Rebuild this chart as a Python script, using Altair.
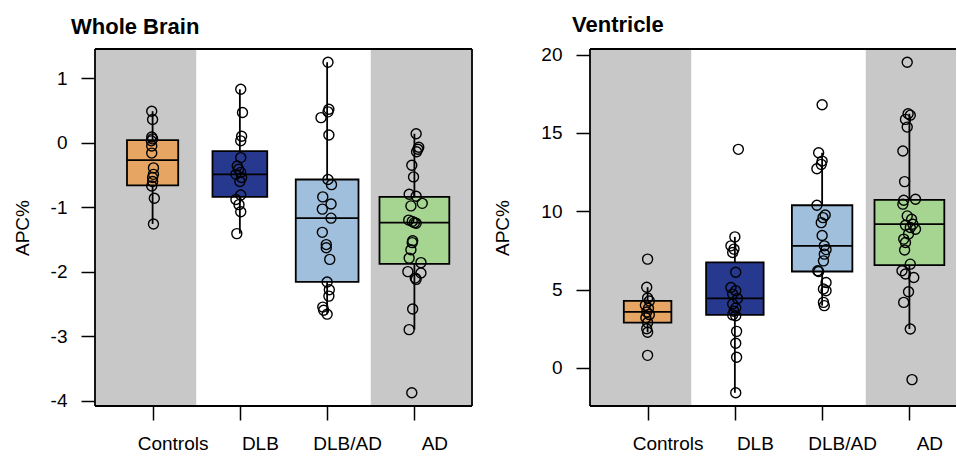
import altair as alt
import numpy as np
import pandas as pd

groups = ["Controls", "DLB", "DLB/AD", "AD"]
colors = ["#E6A562", "#27398F", "#9FBFDC", "#A6D591"]
band_gray = "#C8C8C8"

# ---- Whole Brain: annual percent change per subject ----
wb_controls = [0.49, 0.36, 0.09, 0.06, 0.03, -0.05, -0.16, -0.39, -0.49, -0.54, -0.60, -0.67, -0.86, -1.26]
wb_dlb = [0.83, 0.47, 0.10, 0.03, -0.23, -0.36, -0.41, -0.46, -0.49, -0.54, -0.60, -0.81, -0.88, -0.96, -1.07, -1.41]
wb_dlbad = [1.25, 0.52, 0.48, 0.39, 0.12, -0.57, -0.65, -0.84, -0.95, -1.03, -1.17, -1.39, -1.58, -1.63,
            -1.81, -2.16, -2.28, -2.38, -2.55, -2.60, -2.66]
wb_ad = [0.14, -0.07, -0.10, -0.14, -0.35, -0.53, -0.80, -0.83, -0.94, -0.98, -1.20, -1.22, -1.24, -1.25,
         -1.52, -1.55, -1.66, -1.79, -1.86, -2.00, -2.02, -2.10, -2.12, -2.58, -2.90, -3.88]

# horizontal jitter of each subject (in category units)
wb_controls_jit = [-0.01, 0, -0.01, 0, -0.015, -0.01, -0.01, 0.01, 0.01, 0, 0, -0.01, 0.02, 0.01]
wb_dlb_jit = [0.01, 0.03, 0.02, 0.01, 0.01, -0.03, -0.015, 0.01, -0.045, 0.02, 0, 0.01, -0.045, -0.01, 0.01, -0.035]
wb_dlbad_jit = [0.01, 0.02, 0.01, -0.07, 0.02, 0.01, 0.05, -0.05, 0.045, -0.055, 0.045, -0.055, -0.01, -0.01,
                0.03, 0, 0.025, 0.02, -0.05, -0.04, 0]
wb_ad_jit = [0.02, 0.05, 0.04, 0.025, -0.03, -0.01, -0.06, 0.02, 0.09, -0.04, -0.065, -0.025, 0, 0.02,
             -0.02, -0.025, -0.04, -0.06, 0.075, -0.075, 0.075, 0.01, 0.02, -0.02, -0.06, -0.03]

# box statistics: lower whisker, lower hinge, median, upper hinge, upper whisker
wb_lo = [-1.26, -1.41, -2.66, -2.90]
wb_q1 = [-0.66, -0.84, -2.16, -1.88]
wb_med = [-0.27, -0.49, -1.17, -1.24]
wb_q3 = [0.04, -0.13, -0.57, -0.84]
wb_hi = [0.49, 0.83, 1.25, 0.14]
wb_ticks = [-4, -3, -2, -1, 0, 1]

# ---- Ventricle ----
v_controls = [6.94, 5.15, 4.46, 4.27, 4.00, 3.80, 3.57, 3.40, 3.20, 2.89, 2.50, 2.27, 0.80]
v_dlb = [13.95, 8.36, 7.79, 7.58, 7.36, 6.10, 5.13, 4.92, 4.71, 4.43, 4.08, 3.82, 3.61, 3.38, 3.33,
         2.33, 1.57, 0.68, -1.59]
v_dlbad = [16.80, 13.73, 13.20, 12.99, 12.71, 10.38, 9.76, 9.59, 9.27, 8.45, 7.79, 7.55, 7.26, 6.83,
           6.20, 6.15, 5.45, 5.03, 4.92, 4.18, 3.97]
v_ad = [19.51, 16.22, 16.13, 15.86, 15.37, 13.84, 11.89, 10.76, 10.70, 10.45, 9.70, 9.49, 9.17, 9.10,
        8.96, 8.85, 8.54, 8.22, 8.00, 7.52, 6.62, 6.20, 5.99, 5.77, 4.86, 4.18, 2.48, -0.75]

v_controls_jit = [0, -0.01, 0, 0.02, -0.025, 0.01, -0.01, 0.02, -0.02, 0, -0.01, 0, 0]
v_dlb_jit = [0.04, 0, -0.045, -0.01, -0.025, 0.01, -0.045, 0.01, -0.025, 0.03, -0.025, 0.01, -0.01,
             -0.025, 0.01, 0.02, 0.01, 0.02, 0.01]
v_dlbad_jit = [0, -0.04, 0, -0.01, -0.06, -0.06, 0.035, 0.01, -0.01, 0, 0.025, 0.045, 0.025, 0.015,
               -0.05, -0.04, 0.045, 0.015, 0.045, 0.015, 0.025]
v_ad_jit = [-0.025, -0.015, 0.01, -0.045, -0.025, -0.075, -0.055, 0.07, -0.065, -0.075, -0.025, 0.025,
            0.04, -0.045, 0.01, 0.07, -0.01, -0.065, -0.045, -0.055, 0.01, -0.085, -0.045, 0.05, -0.01,
            -0.065, 0.01, 0.03]

v_lo = [2.27, -1.59, 3.97, 2.48]
v_q1 = [2.89, 3.38, 6.15, 6.56]
v_med = [3.57, 4.43, 7.79, 9.17]
v_q3 = [4.27, 6.73, 10.38, 10.72]
v_hi = [5.15, 8.36, 13.73, 16.22]
v_ticks = [0, 5, 10, 15, 20]

FONT = "Liberation Sans"
H = 357
LEFT_W = 377
RIGHT_W = 366
X_MIN, X_MAX = 0.34, 4.66
LINE = 1.8

color_scale = alt.Scale(domain=groups, range=colors)
x_label_expr = "[" + ",".join("'%s'" % g for g in groups) + "][datum.value - 1]"
# plain hyphen for negative tick labels
y_label_expr = "datum.value < 0 ? '-' + format(-datum.value, 'd') : format(datum.value, 'd')"


def panel(title, series, jitters, lo, q1, med, q3, hi, ticks, width, title_dx, ytitle_x, right_border):
    x_max = X_MIN + (X_MAX - X_MIN) * width / LEFT_W

    rows = []
    for i, (g, vals, jit) in enumerate(zip(groups, series, jitters)):
        for v, j in zip(vals, jit):
            rows.append({"group": g, "pos": i + 1 + j, "value": v})
    pts = pd.DataFrame(rows)

    counts = np.array([len(s) for s in series])
    half = 0.4 * np.sqrt(counts / counts.max())  # box width grows with sqrt(n)
    pos = np.arange(1, len(groups) + 1)
    boxes = pd.DataFrame({
        "group": groups, "pos": pos, "left": pos - half, "right": pos + half,
        "lo": lo, "q1": q1, "med": med, "q3": q3, "hi": hi,
    })

    all_vals = np.concatenate([np.asarray(s, dtype=float) for s in series])
    span = all_vals.max() - all_vals.min()
    y_dom = [all_vals.min() - 0.04 * span, all_vals.max() + 0.04 * span]

    bands = pd.DataFrame({"x0": [X_MIN, 3.5], "x1": [1.5, x_max]})

    xs = alt.Scale(domain=[X_MIN, x_max], nice=False, zero=False)
    ys = alt.Scale(domain=y_dom, nice=False, zero=False)

    x_axis = alt.Axis(values=[1, 2, 3, 4], labelExpr=x_label_expr, title=None, grid=False, domain=False,
                      tickSize=14, tickWidth=1.5, tickColor="black", labelPadding=14, labelOffset=20,
                      labelFont=FONT, labelFontSize=19, labelColor="black", labelFlush=False,
                      labelOverlap=False)
    y_axis = alt.Axis(values=ticks, labelExpr=y_label_expr, title="APC%", grid=False, domain=False,
                      tickSize=14, tickWidth=1.5, tickColor="black", labelPadding=14, labelFont=FONT,
                      labelFontSize=19, labelColor="black", labelFlush=False, labelOverlap=False,
                      titleFont=FONT, titleFontSize=19, titleFontWeight="normal", titleColor="black",
                      titleAngle=270, titleBaseline="bottom", titleAlign="center",
                      titleX=ytitle_x, titleY=H / 2)

    band_layer = alt.Chart(bands).mark_rect(color=band_gray).encode(
        x=alt.X("x0:Q", scale=xs, axis=x_axis), x2="x1:Q", y=alt.value(0), y2=alt.value(H))

    whisk = alt.Chart(boxes).mark_rule(color="black", strokeWidth=LINE).encode(
        x=alt.X("pos:Q", scale=xs),
        y=alt.Y("lo:Q", scale=ys, axis=y_axis), y2="hi:Q")

    box = alt.Chart(boxes).mark_rect(stroke="black", strokeWidth=LINE).encode(
        x=alt.X("left:Q", scale=xs), x2="right:Q",
        y=alt.Y("q1:Q", scale=ys), y2="q3:Q",
        fill=alt.Fill("group:N", scale=color_scale, legend=None))

    median = alt.Chart(boxes).mark_rule(color="black", strokeWidth=LINE).encode(
        x=alt.X("left:Q", scale=xs), x2="right:Q", y=alt.Y("med:Q", scale=ys))

    dots = alt.Chart(pts).mark_point(shape="circle", filled=False, size=100, strokeWidth=1.4,
                                     color="black", opacity=1).encode(
        x=alt.X("pos:Q", scale=xs), y=alt.Y("value:Q", scale=ys))

    frame_df = pd.DataFrame({"k": [0]})
    frame = [
        alt.Chart(frame_df).mark_rule(color="black", strokeWidth=LINE).encode(
            x=alt.value(0), x2=alt.value(width), y=alt.value(0)),
        alt.Chart(frame_df).mark_rule(color="black", strokeWidth=LINE).encode(
            x=alt.value(0), x2=alt.value(width), y=alt.value(H)),
        alt.Chart(frame_df).mark_rule(color="black", strokeWidth=LINE).encode(
            x=alt.value(0), y=alt.value(0), y2=alt.value(H)),
    ]
    if right_border:
        frame.append(alt.Chart(frame_df).mark_rule(color="black", strokeWidth=LINE).encode(
            x=alt.value(width), y=alt.value(0), y2=alt.value(H)))

    return alt.layer(band_layer, whisk, box, median, dots, *frame).properties(
        width=width, height=H,
        title=alt.Title(title, anchor="start", frame="group", dx=title_dx, offset=-8,
                        baseline="alphabetic", font=FONT, fontSize=22, fontWeight="bold", color="black"))


left = panel("Whole Brain", [wb_controls, wb_dlb, wb_dlbad, wb_ad],
             [wb_controls_jit, wb_dlb_jit, wb_dlbad_jit, wb_ad_jit],
             wb_lo, wb_q1, wb_med, wb_q3, wb_hi, wb_ticks, LEFT_W, -24, -63, True)
right = panel("Ventricle", [v_controls, v_dlb, v_dlbad, v_ad],
              [v_controls_jit, v_dlb_jit, v_dlbad_jit, v_ad_jit],
              v_lo, v_q1, v_med, v_q3, v_hi, v_ticks, RIGHT_W, -18, -78, False)

chart = alt.hconcat(left, right, spacing=118, bounds="flush").configure_view(stroke=None).properties(
    padding={"left": 13, "top": 13, "right": 0, "bottom": 0}, background="white")

chart.save("out.html", embed_options={"renderer": "svg", "actions": False})
